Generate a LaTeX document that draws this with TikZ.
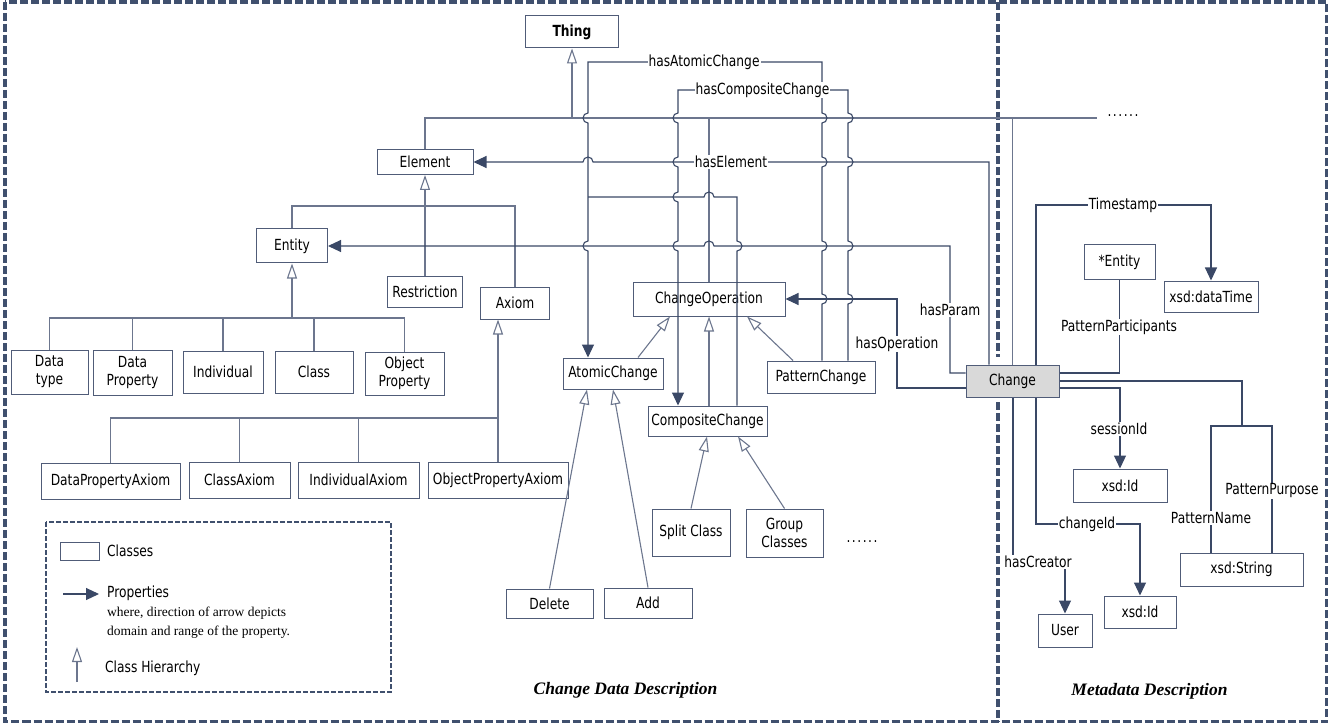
\documentclass[tikz,border=0pt]{standalone}
\usepackage{fontspec}
\setmainfont{DejaVu Sans}[FakeStretch=0.8]
\newfontfamily\timesf{Liberation Serif}
\usetikzlibrary{arrows.meta}
\definecolor{framec}{RGB}{64,80,110}
\definecolor{propc}{RGB}{58,72,102}
\definecolor{hierc}{RGB}{108,118,142}
\definecolor{boxc}{RGB}{80,92,120}
\definecolor{chgc}{RGB}{217,217,217}
\newcommand\fs{\fontsize{15.3}{18}\selectfont}
\newcommand\sixdots{.\hspace{1.5pt}.\hspace{1.5pt}.\hspace{1.5pt}.\hspace{1.5pt}.\hspace{1.5pt}.}
% jumps: down/up with bulge Left/Right; horizontal bumps going Left/Right
\newcommand\jdL[2]{-- (#1,-#2+5) arc[start angle=90,end angle=270,radius=5]}
\newcommand\juR[2]{-- (#1,-#2-5) arc[start angle=-90,end angle=90,radius=5]}
\newcommand\hbL[2]{-- (#1+5,-#2) arc[start angle=0,end angle=180,radius=5]}
\newcommand\hbR[2]{-- (#1-5,-#2) arc[start angle=180,end angle=0,radius=5]}
\begin{document}
\begin{tikzpicture}[x=1pt,y=1pt,
  cls/.style={draw=boxc, line width=1pt, inner sep=1pt, font=\fs, align=center, text=black},
  lab/.style={fill=white, inner sep=1pt, font=\fs, text=black},
  pline/.style={draw=propc, line width=1.1pt},
  parrow/.style={pline, -{Triangle[length=13pt,width=12pt]}},
  hline/.style={draw=hierc, line width=1.1pt},
  harrow/.style={hline, -{Triangle[open,length=15pt,width=10pt]}},
  framel/.style={draw=framec, line width=3.2pt, dash pattern=on 8pt off 3pt},
  legl/.style={draw=framec, line width=1.8pt, dash pattern=on 5pt off 2pt},
  ttl/.style={font=\timesf\bfseries\itshape\fontsize{17.5}{20}\selectfont}]
\useasboundingbox (0,0) rectangle (1335,-727);

% frames
\draw[framel] (5,-2) rectangle (1326.5,-721.5);
\draw[framel] (998,-2) -- (998,-357);
\draw[framel] (998,-402) -- (998,-721.5);

% class nodes
\node[cls, minimum width=93, minimum height=32, font=\fs\bfseries] (Thing) at (572,-32) {Thing};
\node[cls, minimum width=96, minimum height=25] (Element) at (425,-162) {Element};
\node[cls, minimum width=71, minimum height=34] (Entity) at (292,-246) {Entity};
\node[cls, minimum width=75, minimum height=31] (Restriction) at (425,-291.5) {Restriction};
\node[cls, minimum width=69, minimum height=32] (Axiom) at (515,-303) {Axiom};
\node[cls, minimum width=77, minimum height=44] (DataType) at (49.5,-372) {Data\\type};
\node[cls, minimum width=79, minimum height=45] (DataProp) at (132.5,-372.5) {Data\\Property};
\node[cls, minimum width=80, minimum height=42] (Individual) at (223,-372) {Individual};
\node[cls, minimum width=78, minimum height=42] (ClassN) at (314,-372) {Class};
\node[cls, minimum width=79, minimum height=43] (ObjProp) at (404.5,-373.5) {Object\\Property};
\node[cls, minimum width=139, minimum height=36] (DPA) at (110.5,-481) {DataPropertyAxiom};
\node[cls, minimum width=101, minimum height=36] (CA) at (239.5,-480) {ClassAxiom};
\node[cls, minimum width=121, minimum height=36] (IA) at (358.5,-480) {IndividualAxiom};
\node[cls, minimum width=140, minimum height=36] (OPA) at (498,-480) {ObjectPropertyAxiom};
\node[cls, minimum width=152, minimum height=34] (ChangeOp) at (709,-299) {ChangeOperation};
\node[cls, minimum width=100, minimum height=31] (AtomicC) at (613,-373.5) {AtomicChange};
\node[cls, minimum width=119, minimum height=30] (CompC) at (707.5,-421) {CompositeChange};
\node[cls, minimum width=108, minimum height=32] (PatC) at (821,-377) {PatternChange};
\node[cls, minimum width=87, minimum height=29] (Delete) at (549.5,-603.5) {Delete};
\node[cls, minimum width=88, minimum height=30] (Add) at (648,-603) {Add};
\node[cls, minimum width=78, minimum height=47] (Split) at (691,-532.5) {Split Class};
\node[cls, minimum width=77, minimum height=48] (Group) at (784.5,-533) {Group\\Classes};
\node[font=\fs] (dots2) at (862,-542) {\sixdots};
\node[cls, fill=chgc, minimum width=93, minimum height=32] (Change) at (1012.5,-381) {Change};
\node[cls, minimum width=71, minimum height=34] (StarEntity) at (1119.5,-262) {*Entity};
\node[cls, minimum width=94, minimum height=31] (DataTime) at (1211,-296.5) {xsd:dataTime};
\node[cls, minimum width=94, minimum height=33] (XId1) at (1120,-485.5) {xsd:Id};
\node[cls, minimum width=72, minimum height=32] (XId2) at (1140,-612) {xsd:Id};
\node[cls, minimum width=54, minimum height=33] (User) at (1065,-630.5) {User};
\node[cls, minimum width=123, minimum height=33] (XStr) at (1241.5,-569.5) {xsd:String};
\node[font=\fs] (dots1) at (1123,-116) {\sixdots};

% Thing hierarchy
\draw[hline] (Element.north) |- (1097,-118);
\draw[harrow] (572,-118) -- (Thing.south);
\draw[hline] (709,-118) -- (ChangeOp.north);
\draw[hline] (1012.5,-118) -- (Change.north);

% Element hierarchy
\draw[harrow] (Restriction.north) -- (Element.south);
\draw[hline] (Entity.north) |- (515,-206) -- (Axiom.north);

% Entity hierarchy
\draw[harrow] (292,-318) -- (Entity.south);
\draw[hline] (DataType.north) |- (ObjProp.north |- 0,-318) -- (ObjProp.north);
\draw[hline] (DataProp.north) -- (DataProp.north |- 0,-318);
\draw[hline] (Individual.north) -- (Individual.north |- 0,-318);
\draw[hline] (ClassN.north) -- (ClassN.north |- 0,-318);

% Axiom hierarchy
\draw[harrow] (OPA.north) -- (OPA.north |- Axiom.south);
\draw[hline] (DPA.north) |- (498,-418);
\draw[hline] (CA.north) -- (CA.north |- 0,-418);
\draw[hline] (IA.north) -- (IA.north |- 0,-418);

% ChangeOperation hierarchy
\draw[harrow] (AtomicC.north -| 638,0) -- (ChangeOp.south -| 670,0);
\draw[harrow] (CompC.north -| 709,0) -- (ChangeOp.south -| 709,0);
\draw[harrow] (PatC.north -| 793,0) -- (ChangeOp.south -| 747,0);
\draw[harrow] (Delete.north) -- (AtomicC.south -| 587,0);
\draw[harrow] (Add.north) -- (AtomicC.south -| 613,0);
\draw[harrow] (Split.north) -- (CompC.south -| 707,0);
\draw[harrow] (Group.north) -- (CompC.south -| 738,0);

% properties
\draw[parrow] (PatC.north -| 822,0) \juR{822}{299} \juR{822}{246} \juR{822}{162} \juR{822}{118} -- (822,-62) -- (588,-62) \jdL{588}{118} \jdL{588}{246} -- (AtomicC.north -| 588,0);
\draw[parrow] (PatC.north -| 848,0) \juR{848}{299} \juR{848}{246} \juR{848}{162} \juR{848}{118} -- (848,-90) -- (678,-90) \jdL{678}{118} \jdL{678}{162} \jdL{678}{197} \jdL{678}{246} -- (CompC.north -| 678,0);
\draw[pline] (CompC.north -| 737,0) \juR{737}{246} -- (737,-197) \hbL{709}{197} -- (588,-197);
\draw[parrow] (Change.north -| 989,0) -- (989,-162) \hbL{588}{162} -- (Element.east);
\draw[parrow] (Change.west |- 0,-373) -- (950,-373) -- (950,-246) \hbL{709}{246} -- (Entity.east);
\draw[parrow] (Change.west |- 0,-388) -- (897,-388) -- (897,-299) -- (ChangeOp.east);
\draw[parrow] (Change.north -| 1036,0) |- (1211,-205) -- (DataTime.north);
\draw[pline] (Change.east |- 0,-373) -| (StarEntity.south);
\draw[parrow] (Change.east |- 0,-388) -| (XId1.north);
\draw[parrow] (Change.south -| 1036,0) |- (1140,-524) -- (XId2.north);
\draw[parrow] (Change.south -| 1013,0) |- (1065,-562) -- (User.north);
\draw[pline] (Change.east |- 0,-381) -| (1242,-426);
\draw[pline] (XStr.north -| 1211,0) |- (1272,-426) -- (XStr.north -| 1272,0);

% labels
\node[lab] (lHAC) at (704,-62) {hasAtomicChange};
\node[lab] (lHCC) at (762.5,-90) {hasCompositeChange};
\node[lab] (lHE) at (731,-162) {hasElement};
\node[lab] (lHP) at (950,-310) {hasParam};
\node[lab] (lHO) at (897,-344) {hasOperation};
\node[lab] (lTS) at (1123,-205) {Timestamp};
\node[lab] (lPP) at (1119,-327) {PatternParticipants};
\node[lab] (lSI) at (1119,-429) {sessionId};
\node[lab] (lCI) at (1087,-524) {changeId};
\node[lab] (lHCr) at (1038,-562) {hasCreator};
\node[lab] (lPN) at (1211,-518) {PatternName};
\node[lab] (lPPu) at (1272,-491) {PatternPurpose};

% legend
\draw[legl] (46,-522) rectangle (391,-692);
\node[draw=boxc, line width=1pt, minimum width=39.5, minimum height=18, inner sep=0] (legcls) at (79.75,-551) {};
\node[font=\fs, anchor=west, inner sep=0] (legclst) at (107,-551) {Classes};
\coordinate (lpa) at (63,-594);
\coordinate (lpb) at (99,-594);
\draw[parrow] (lpa) -- (lpb);
\node[font=\fs, anchor=west, inner sep=0] (legpt) at (107,-593) {Properties};
\node[font=\timesf\fontsize{13.5}{15}\selectfont, anchor=west, inner sep=0] (legw1) at (107,-613) {where, direction of arrow depicts};
\node[font=\timesf\fontsize{13.5}{15}\selectfont, anchor=west, inner sep=0] (legw2) at (107,-632) {domain and range of the property.};
\coordinate (lha) at (77,-682);
\coordinate (lhb) at (77,-647);
\draw[harrow] (lha) -- (lhb);
\node[font=\fs, anchor=west, inner sep=0] (leght) at (105,-668) {Class Hierarchy};

% titles
\node[ttl] (t1) at (625.5,-690) {Change Data Description};
\node[ttl] (t2) at (1149.5,-691) {Metadata Description};
\end{tikzpicture}
\end{document}
